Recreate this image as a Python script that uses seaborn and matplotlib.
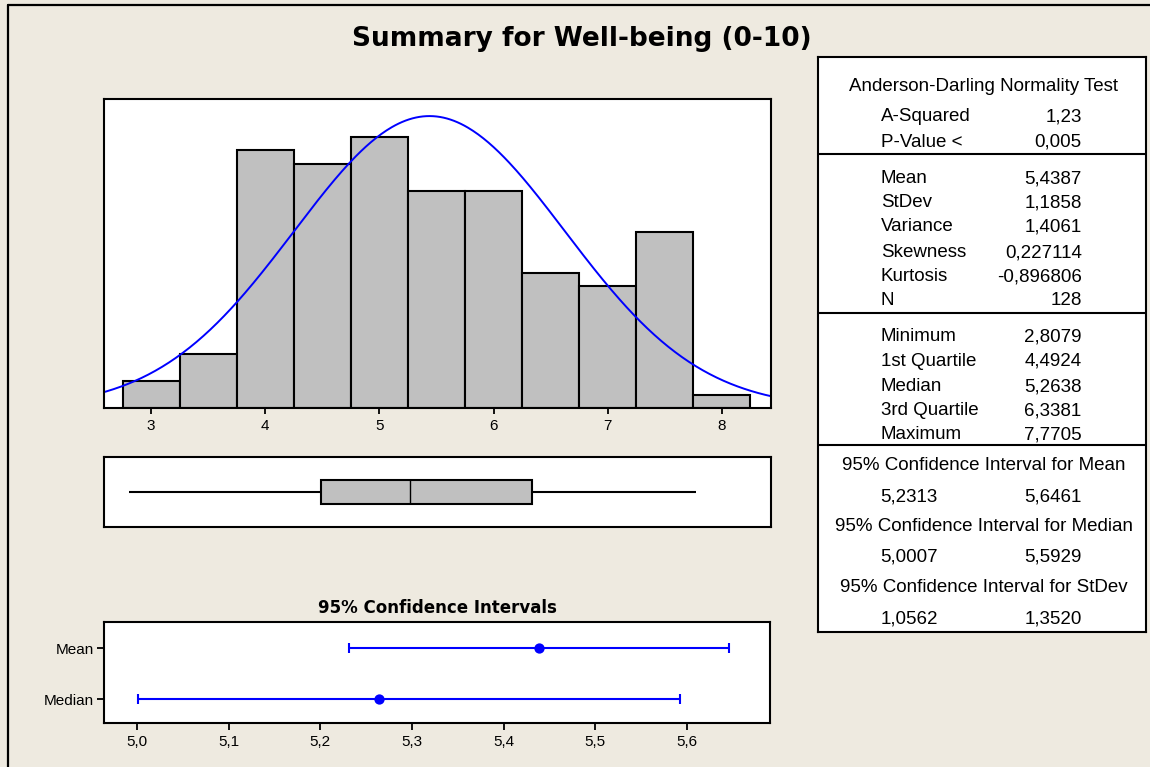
import numpy as np
import matplotlib
matplotlib.use("Agg")
import matplotlib.pyplot as plt
from matplotlib.lines import Line2D
import seaborn as sns

# ---------------- data ----------------
title = "Summary for Well-being (0-10)"
bin_edges = [2.75, 3.25, 3.75, 4.25, 4.75, 5.25, 5.75, 6.25, 6.75, 7.25, 7.75, 8.25]
bin_counts = [2, 4, 19, 18, 20, 16, 16, 10, 9, 13, 1]
hist_ticks = [3, 4, 5, 6, 7, 8]

n_obs = 128
mean_val = 5.4387
stdev_val = 1.1858
five_num = [2.8079, 4.4924, 5.2638, 6.3381, 7.7705]  # min, Q1, median, Q3, max

ci_labels = ["Mean", "Median"]
ci_est = [5.4387, 5.2638]
ci_low = [5.2313, 5.0007]
ci_high = [5.6461, 5.5929]
ci_ticks = [5.0, 5.1, 5.2, 5.3, 5.4, 5.5, 5.6]
ci_tick_labels = ["5,0", "5,1", "5,2", "5,3", "5,4", "5,5", "5,6"]

ad_header = "Anderson-Darling Normality Test"
ad_rows = [("A-Squared", "1,23"), ("P-Value <", "0,005")]
moment_rows = [("Mean", "5,4387"), ("StDev", "1,1858"), ("Variance", "1,4061"),
               ("Skewness", "0,227114"), ("Kurtosis", "-0,896806"), ("N", "128")]
quant_rows = [("Minimum", "2,8079"), ("1st Quartile", "4,4924"), ("Median", "5,2638"),
              ("3rd Quartile", "6,3381"), ("Maximum", "7,7705")]
ci_table = [("95% Confidence Interval for Mean", "5,2313", "5,6461"),
            ("95% Confidence Interval for Median", "5,0007", "5,5929"),
            ("95% Confidence Interval for StDev", "1,0562", "1,3520")]

# ---------------- layout helpers ----------------
W, H = 1150, 767
BG = "#EEEAE0"
BAR = "#C0C0C0"

sns.set_theme(style="white")
plt.rcParams["font.family"] = ["Liberation Sans", "DejaVu Sans"]
plt.rcParams["text.color"] = "black"
plt.rcParams["xtick.color"] = "black"
plt.rcParams["ytick.color"] = "black"
plt.rcParams["axes.labelcolor"] = "black"

fig = plt.figure(figsize=(W / 100, H / 100), dpi=100, facecolor=BG)


def box(l, t, r, b):
    return [l / W, 1 - b / H, (r - l) / W, (b - t) / H]


def style_spines(ax, lw=1.5):
    for s in ax.spines.values():
        s.set_visible(True)
        s.set_color("black")
        s.set_linewidth(lw)


# frame lines (top & left)
fig.add_artist(Line2D([8 / W, 1.0], [1 - 5 / H, 1 - 5 / H], color="black", lw=1.6))
fig.add_artist(Line2D([8 / W, 8 / W], [1 - 5 / H, 0], color="black", lw=1.6))

fig.text(582 / W, 1 - 46.5 / H, title, ha="center", va="baseline",
         fontsize=19, fontweight="bold", family="DejaVu Sans", color="black")

# ---------------- histogram ----------------
ax = fig.add_axes(box(104.3, 99, 770.8, 408.3))
ax.set_facecolor("white")
centers = [(a + b) / 2 for a, b in zip(bin_edges[:-1], bin_edges[1:])]
sns.histplot(x=centers, weights=bin_counts, bins=bin_edges, color=BAR,
             edgecolor="black", linewidth=1.5, alpha=1, ax=ax)
xmin, xmax = 2.589, 8.430
xs = np.linspace(xmin - 0.1, xmax + 0.1, 400)
ys = n_obs * (bin_edges[1] - bin_edges[0]) * np.exp(-0.5 * ((xs - mean_val) / stdev_val) ** 2) / (stdev_val * np.sqrt(2 * np.pi))
sns.lineplot(x=xs, y=ys, color="#0000FF", linewidth=1.4, ax=ax)
ax.set_xlim(xmin, xmax)
ax.set_ylim(0, 22.79)
ax.set_xticks(hist_ticks)
ax.set_xticklabels([str(t) for t in hist_ticks], fontsize=11)
ax.set_yticks([])
ax.set_xlabel("")
ax.set_ylabel("")
ax.tick_params(axis="x", bottom=True, direction="out", length=4.5, width=1.3,
               color="black", pad=3, labelcolor="black")
style_spines(ax)

# ---------------- boxplot ----------------
axb = fig.add_axes(box(104.3, 456.7, 770.8, 527.3))
axb.set_facecolor("white")
sns.boxplot(x=five_num, ax=axb, color=BAR, saturation=1, width=0.336,
            linecolor="black", linewidth=1.5, showcaps=False,
            medianprops=dict(linewidth=1.0, color="black"))
axb.set_xlim(xmin, xmax)
axb.set_ylim(0.5, -0.5)
axb.set_xticks([])
axb.set_yticks([])
axb.set_xlabel("")
style_spines(axb)

# ---------------- confidence intervals ----------------
axc = fig.add_axes(box(103.5, 622, 770, 723))
axc.set_facecolor("white")
ypos = [1, 0]
for y, est, lo, hi in zip(ypos, ci_est, ci_low, ci_high):
    axc.errorbar(x=[est], y=[y], xerr=[[est - lo], [hi - est]], fmt="none",
                 ecolor="#0000FF", elinewidth=1.5, capsize=3.8, capthick=1.5)
sns.scatterplot(x=ci_est, y=ypos, color="#0000FF", s=55, edgecolor="#0000FF",
                linewidth=0, ax=axc, zorder=5)
axc.set_xlim(4.9635, 5.6907)
axc.set_ylim(-0.47, 1.51)
axc.set_xticks(ci_ticks)
axc.set_xticklabels(ci_tick_labels, fontsize=11)
axc.set_yticks(ypos)
axc.set_yticklabels(ci_labels, fontsize=11)
axc.tick_params(axis="both", direction="out", length=5, width=1.3, color="black",
                pad=2, labelcolor="black", bottom=True, left=True)
axc.tick_params(axis="x", pad=4)
axc.set_xlabel("")
axc.set_ylabel("")
style_spines(axc)
fig.text(437 / W, 1 - 608 / H, "95% Confidence Intervals", ha="center", va="center",
         fontsize=12, fontweight="bold", family="DejaVu Sans", color="black")

# ---------------- summary table ----------------
TL, TT, TR, TB = 818, 57, 1146, 631.6
axt = fig.add_axes(box(TL, TT, TR, TB))
axt.set_facecolor("white")
axt.set_xlim(TL, TR)
axt.set_ylim(TB, TT)
axt.set_xticks([])
axt.set_yticks([])
style_spines(axt)
for yline in [154.2, 313.2, 445.4]:
    axt.plot([TL, TR], [yline, yline], color="black", lw=1.5, solid_capstyle="butt")

FS = 13.5
DY = 1.5
LX, VX, CX = 880.7, 1081.7, (TL + TR) / 2 + 2
axt.text(CX, 85.2 + DY, ad_header, ha="center", va="center", fontsize=FS)
for (lab, val), y in zip(ad_rows, [115.1, 140.8]):
    axt.text(LX, y + DY, lab, ha="left", va="center", fontsize=FS)
    axt.text(VX, y + DY, val, ha="right", va="center", fontsize=FS)
for (lab, val), y in zip(moment_rows, [177.2, 201.3, 225.1, 251.1, 275.3, 299.0]):
    axt.text(LX, y + DY, lab, ha="left", va="center", fontsize=FS)
    axt.text(VX, y + DY, val, ha="right", va="center", fontsize=FS)
for (lab, val), y in zip(quant_rows, [335.4, 359.6, 385.2, 409.4, 433.1]):
    axt.text(LX, y + DY, lab, ha="left", va="center", fontsize=FS)
    axt.text(VX, y + DY, val, ha="right", va="center", fontsize=FS)
for (lab, lo, hi), yt, yv in zip(ci_table, [463.8, 525.1, 585.6], [495.2, 555.0, 617.0]):
    axt.text(CX, yt + DY, lab, ha="center", va="center", fontsize=FS)
    axt.text(LX, yv + DY, lo, ha="left", va="center", fontsize=FS)
    axt.text(VX, yv + DY, hi, ha="right", va="center", fontsize=FS)

fig.savefig("out.png", dpi=100, facecolor=BG)
